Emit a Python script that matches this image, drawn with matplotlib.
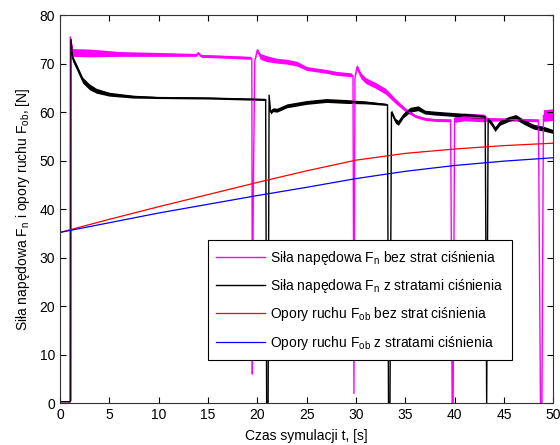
import matplotlib
matplotlib.use("Agg")
import matplotlib.pyplot as plt

plt.rcParams['font.family'] = ['Liberation Sans', 'DejaVu Sans']
plt.rcParams['mathtext.fontset'] = 'custom'
plt.rcParams['mathtext.rm'] = 'Liberation Sans'

# Siła napędowa Fn bez strat ciśnienia (magenta)
t_fn_bez = [0, 1.0, 1.05, 1.3, 3, 6, 10, 13.8, 14.0, 14.3, 17, 19.3, 19.45, 19.5, 19.6,
            19.75, 20.0, 20.3, 21, 22, 23, 24, 25, 26, 27, 28, 29.5, 29.7, 29.8, 29.9,
            30.1, 30.5, 31, 32, 33, 34, 35, 36, 37, 38, 39.6, 39.75, 39.85, 40.0, 41,
            43, 43.3, 45, 47, 48.5, 48.7, 48.85, 49.0, 50]
fn_bez = [0, 0, 75.5, 72.3, 72.2, 72.0, 71.9, 71.8, 72.2, 71.6, 71.4, 71.2, 71.0, 6, 44,
          70.5, 72.8, 71.5, 71.0, 70.6, 70.4, 70.0, 69.0, 68.7, 68.4, 68.0, 67.7, 67.5, 2, 67,
          69.3, 67.5, 66.5, 65.5, 64.3, 62.3, 60.5, 59.2, 58.6, 58.4, 58.3, 0, 0, 58.7, 59.0,
          58.8, 58.5, 58.5, 58.4, 58.3, 0, 0, 59.3, 59.5]
sp_fn_bez = [0, 0, 0, 0.8, 0.8, 0.5, 0.4, 0.3, 0.3, 0.3, 0.3, 0.3, 0, 0, 0,
             0, 0.4, 0.6, 0.6, 0.5, 0.5, 0.5, 0.4, 0.4, 0.4, 0.4, 0.4, 0, 0, 0,
             0.6, 0.6, 0.6, 0.6, 0.6, 0.5, 0.4, 0.3, 0.3, 0.3, 0.3, 0, 0, 0.8, 0.8,
             0.8, 0.4, 0.3, 0.3, 0.3, 0, 0, 1.2, 1.2]

# Siła napędowa Fn z stratami ciśnienia (black)
t_fn_z = [0, 1.0, 1.1, 1.12, 1.3, 1.7, 2.3, 3, 3.7, 5, 7.4, 10, 15, 20.85, 20.95, 21.1,
          21.2, 21.35, 21.6, 22, 23, 25, 27, 29, 31, 33.0, 33.2, 33.3, 33.45, 33.6, 34.0,
          34.3, 34.8, 35.5, 36.3, 37, 38, 40, 42, 43.1, 43.25, 43.4, 43.8, 44.1, 44.6,
          45.5, 46.2, 47, 48, 49, 50]
fn_z = [0.3, 0.3, 0.5, 75, 71, 69.3, 66.6, 65.2, 64.4, 63.7, 63.2, 63.0, 62.9, 62.6, 0, 0,
        63.5, 60.0, 60.5, 60.4, 61.3, 62.0, 62.4, 62.2, 62.0, 61.6, 61.5, 0, 0, 60.0, 58.2,
        57.8, 59.3, 60.5, 60.8, 60.0, 59.8, 59.5, 59.2, 59.0, 0, 58.5, 57.5, 56.5, 57.8,
        58.6, 59.0, 58.0, 57.0, 56.6, 56.0]
sp_fn_z = [0, 0, 0, 0, 0.6, 0.6, 0.6, 0.6, 0.5, 0.4, 0.3, 0.2, 0.2, 0.2, 0, 0,
           0, 0.4, 0.4, 0.4, 0.4, 0.4, 0.4, 0.4, 0.3, 0.2, 0, 0, 0, 0.5, 0.5,
           0.5, 0.5, 0.5, 0.5, 0.4, 0.4, 0.4, 0.4, 0.3, 0, 0.4, 0.5, 0.5, 0.5,
           0.5, 0.5, 0.5, 0.5, 0.5, 0.4]

# Opory ruchu Fob
t_fob = [0, 5, 10, 15, 20, 25, 30, 35, 40, 45, 50]
fob_bez = [35.2, 37.9, 40.5, 43.0, 45.5, 47.9, 50.1, 51.5, 52.4, 53.1, 53.6]
fob_z = [35.2, 37.2, 39.2, 41.0, 42.8, 44.5, 46.3, 47.8, 49.0, 49.9, 50.6]

labels = ['Siła napędowa F$_\\mathrm{n}$ bez strat ciśnienia',
          'Siła napędowa F$_\\mathrm{n}$ z stratami ciśnienia',
          'Opory ruchu F$_\\mathrm{ob}$ bez strat ciśnienia',
          'Opory ruchu F$_\\mathrm{ob}$ z stratami ciśnienia']

fig = plt.figure(figsize=(5.6, 4.45), dpi=100)
ax = fig.add_axes([0.107, 0.094, 0.881, 0.872])

lo = [v - s for v, s in zip(fn_bez, sp_fn_bez)]
hi = [v + s for v, s in zip(fn_bez, sp_fn_bez)]
ax.fill_between(t_fn_bez, lo, hi, color='#ff00ff', lw=0)
ax.plot(t_fn_bez, fn_bez, color='#ff00ff', lw=1.0, label=labels[0])

lo = [v - s for v, s in zip(fn_z, sp_fn_z)]
hi = [v + s for v, s in zip(fn_z, sp_fn_z)]
ax.fill_between(t_fn_z, lo, hi, color='black', lw=0)
ax.plot(t_fn_z, fn_z, color='black', lw=1.0, label=labels[1])

ax.plot(t_fob, fob_bez, color='#ff0000', lw=0.9, label=labels[2])
ax.plot(t_fob, fob_z, color='#0000ff', lw=0.9, label=labels[3])

ax.set_xlim(0, 50)
ax.set_ylim(0, 80)
ax.set_xticks(range(0, 51, 5))
ax.set_yticks(range(0, 81, 10))
ax.tick_params(direction='in', top=True, right=True, length=4, labelsize=10)
for s in ax.spines.values():
    s.set_color('#333333')

ax.set_xlabel('Czas symulacji t, [s]', fontsize=10, labelpad=5)
ax.set_ylabel('Siła napędowa F$_\\mathrm{n}$ i opory ruchu F$_\\mathrm{ob}$, [N]',
              fontsize=10, labelpad=5)

leg = ax.legend(loc='lower left', bbox_to_anchor=(0.300, 0.111), fontsize=10,
                fancybox=False, edgecolor='black', framealpha=1, borderaxespad=0,
                handlelength=3.5, labelspacing=0.75, borderpad=0.6, handletextpad=0.4)
leg.get_frame().set_linewidth(0.8)

fig.savefig('out.png', dpi=100)
